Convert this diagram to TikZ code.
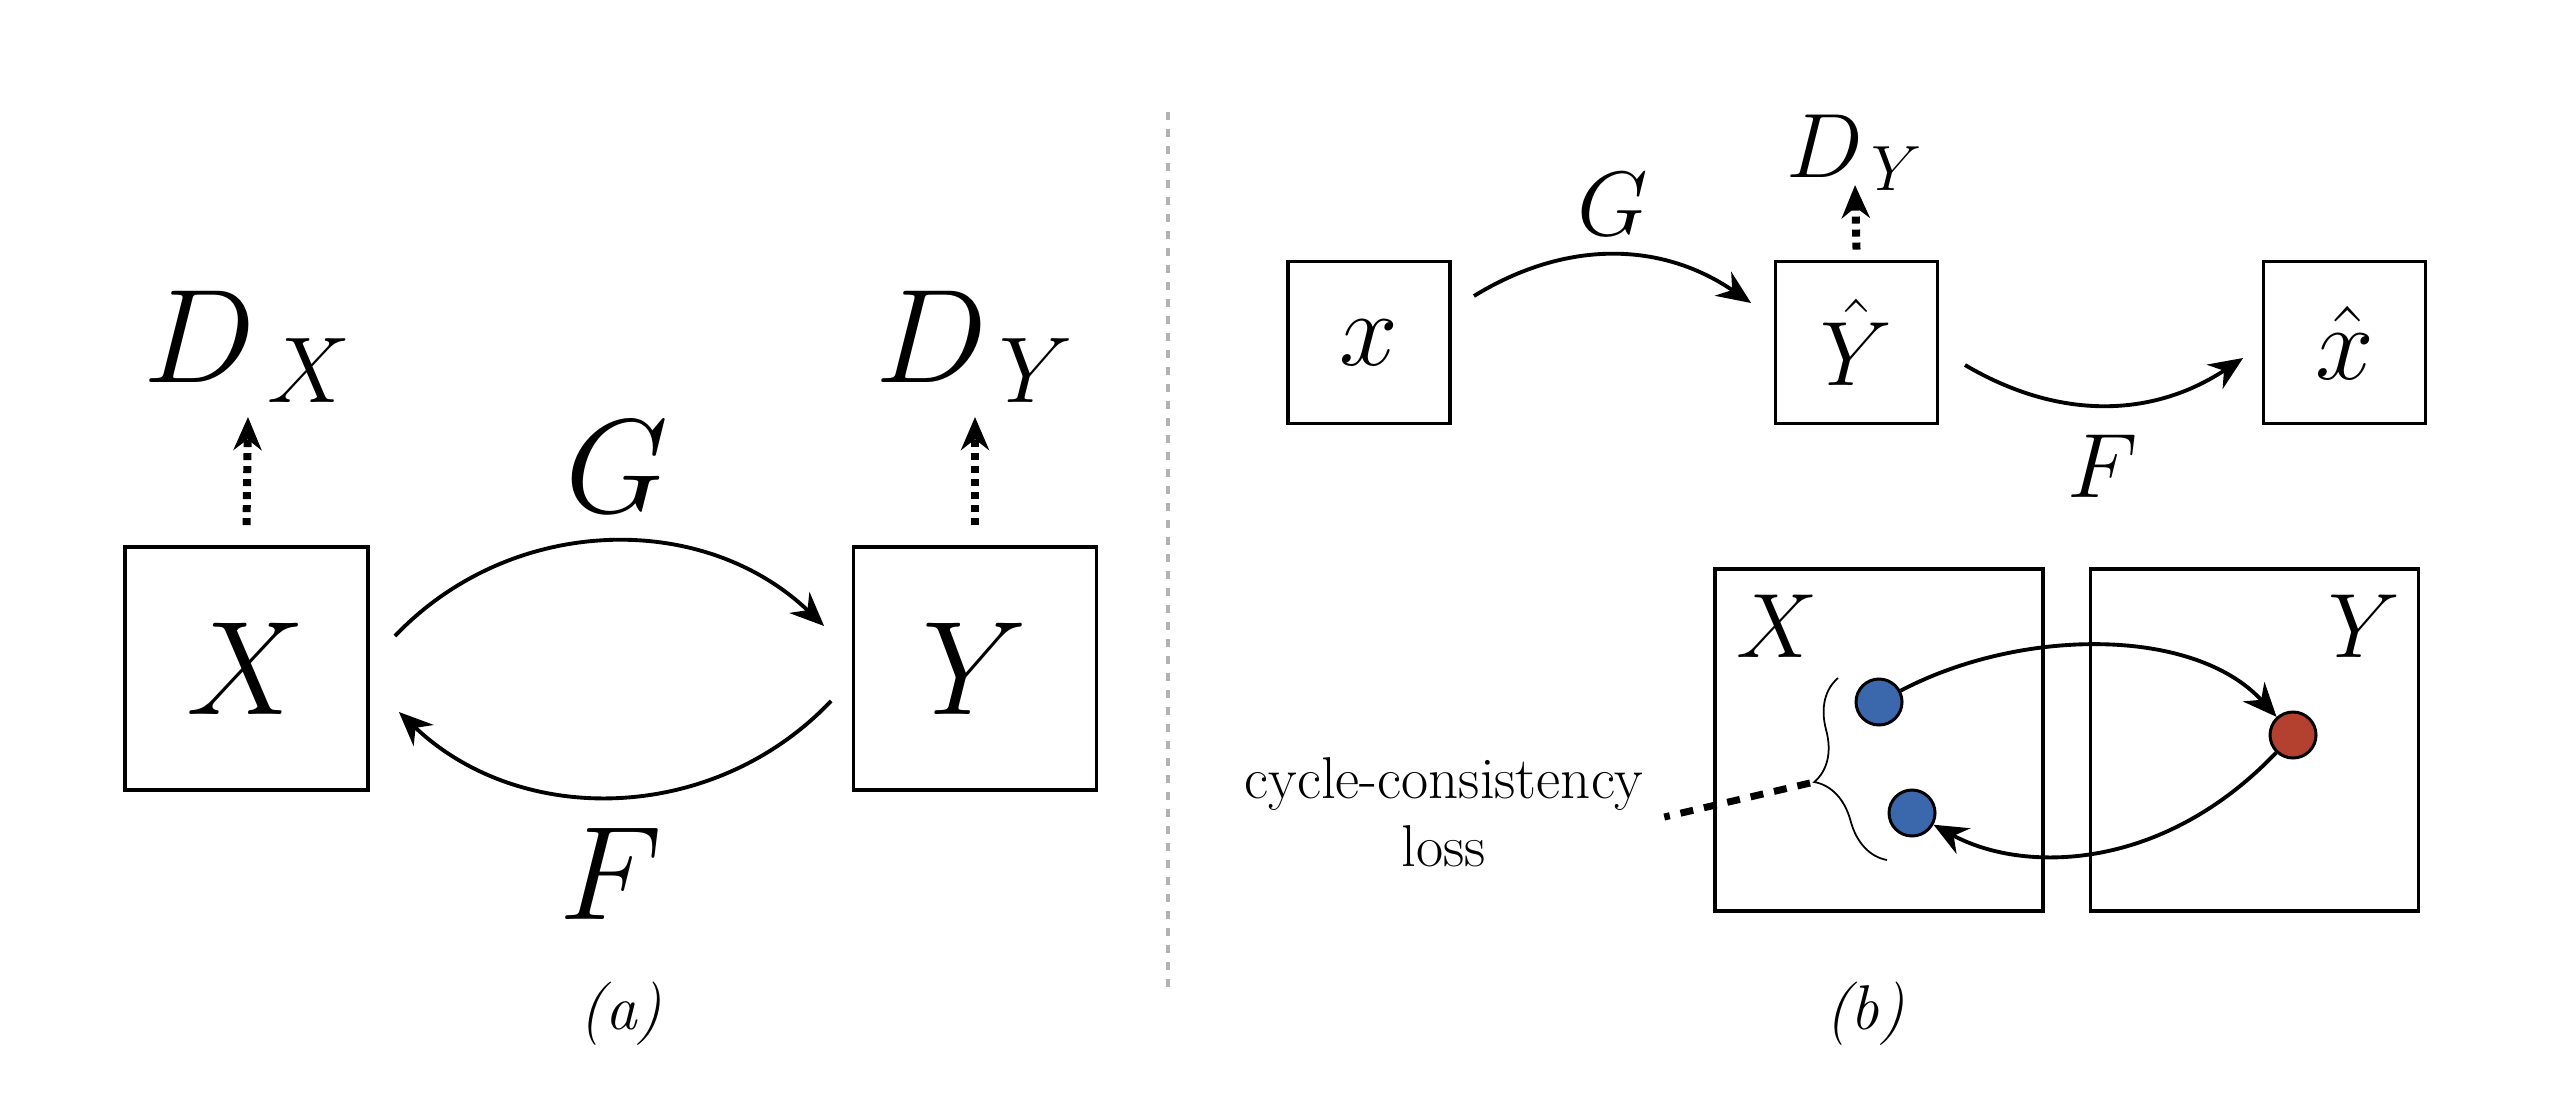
\RequirePackage{fix-cm}
\documentclass[tikz,border=0pt]{standalone}
\usepackage{amsmath}
\usepackage{xcolor}
\usetikzlibrary{arrows.meta}
\usetikzlibrary{calc}
\usetikzlibrary{positioning}
\usetikzlibrary{decorations.pathreplacing}

\definecolor{dotblue}{RGB}{59,103,172}
\definecolor{dotred}{RGB}{180,64,48}
\newcommand{\fsbig}{\fontsize{38}{44}\selectfont}
\newcommand{\fsmid}{\fontsize{26}{30}\selectfont}
\newcommand{\fslow}{\fontsize{30}{34}\selectfont}

\begin{document}
\begin{tikzpicture}[>={Stealth[length=0.34cm,width=0.29cm]}, line width=1.1pt]
	\tikzstyle{box}=[draw, rectangle, inner sep=0pt, line width=1.1pt]
	\tikzstyle{bigbox}=[box, minimum size=2.43cm, font=\fsbig]
	\tikzstyle{smallbox}=[box, minimum size=1.62cm, font=\fsmid]
	\tikzstyle{setbox}=[box, minimum width=3.28cm, minimum height=3.42cm]
	\tikzstyle{lab}=[anchor=base, inner sep=0pt]
	\tikzstyle{dot}=[draw, circle, inner sep=0pt, minimum size=0.46cm, line width=0.85pt]
	\tikzstyle{disc}=[->, line width=0.08cm, dash pattern=on 0.07cm off 0.06cm, >={Stealth[length=0.33cm,width=0.28cm]}]
	\tikzstyle{lossline}=[line width=0.07cm, dash pattern=on 0.13cm off 0.11cm]
	\useasboundingbox (0,0) rectangle (25.5,-10.94);

	% (a)
	\node[bigbox] (X) at (2.465,-6.685) {$X$};
	\node[bigbox] (Y) at (9.75,-6.685) {$Y$};
	\node[lab, font=\fsbig] (DX) at (2.48,-3.82) {$D_{\,X}$};
	\node[lab, font=\fsbig] (DY) at (9.75,-3.82) {$D_{\,Y}$};
	\node[lab, font=\fsbig] (G) at (6.17,-5.12) {$G$};
	\node[lab, font=\fsbig] (F) at (6.11,-9.19) {$F$};
	\draw[disc] ([yshift=0.2cm]X.north) -- ([yshift=-0.35cm]DX.base);
	\draw[disc] ([yshift=0.2cm]Y.north) -- ([yshift=-0.35cm]DY.base);
	\path
		([xshift=0.25cm,yshift=0.325cm]X.east) edge[->, bend left=45] ([xshift=-0.275cm,yshift=0.425cm]Y.west)
		([xshift=-0.205cm,yshift=-0.325cm]Y.west) edge[->, bend left=45] ([xshift=0.29cm,yshift=-0.435cm]X.east);
	\node[lab, font=\fontsize{18}{22}\selectfont] (la) at (6.21,-10.29) {\textit{(a)}};

	\draw[gray!60, line width=0.04cm, dash pattern=on 0.08cm off 0.09cm] (11.68,-1.12) -- (11.68,-9.87);

	% (b), top row
	\node[smallbox, font=\fslow] (x) at (13.69,-3.425) {$x$};
	\node[smallbox] (yh) at (18.565,-3.425) {$\hat{Y}$};
	\node[smallbox, font=\fslow] (xh) at (23.445,-3.425) {$\hat{x}$};
	\node[lab, font=\fsmid] (DY2) at (18.55,-1.77) {$D_{\,Y}$};
	\node[lab, font=\fsmid] (G2) at (16.13,-2.35) {$G$};
	\node[lab, font=\fsmid] (F2) at (21.03,-4.97) {$F$};
	\draw[disc] ([yshift=0.1cm]yh.north) -- ([yshift=-0.08cm]DY2.base);
	\path
		([xshift=0.22cm,yshift=0.465cm]x.east) edge[->, bend left=33] ([xshift=-0.225cm,yshift=0.395cm]yh.west)
		([xshift=0.255cm,yshift=-0.225cm]yh.east) edge[->, bend right=32] ([xshift=-0.185cm,yshift=-0.155cm]xh.west);

	% (b), bottom row
	\node[setbox] (SX) at (18.79,-7.40) {};
	\node[setbox] (SY) at (22.545,-7.40) {};
	\node[lab, font=\fsmid] (lx) at (17.77,-6.57) {$X$};
	\node[lab, font=\fsmid] (ly) at (23.64,-6.57) {$Y$};
	\node[dot, fill=dotblue] (d1) at (18.79,-7.02) {};
	\node[dot, fill=dotblue] (d2) at (19.12,-8.13) {};
	\node[dot, fill=dotred] (r1) at (22.93,-7.35) {};
	\draw[->] (d1) .. controls +(1.43,0.75) and +(-0.98,1.08) .. (r1);
	\draw[->] (r1) .. controls +(-1.32,-1.38) and +(1.10,-0.60) .. (d2);
	\coordinate (bb) at (18.87,-8.60);
	\coordinate (bt) at (18.38,-6.78);
	\coordinate (ct) at (18.10,-7.83);
	\draw[line width=0.5pt, decorate, decoration={brace, amplitude=0.5cm}] (bb) -- (bt);
	\node[align=center, font=\fontsize{16.8}{19.5}\selectfont] (cyc) at (14.44,-8.12) {cycle-consistency\\loss};
	\draw[lossline] (ct) -- ([xshift=0.07cm,yshift=-0.05cm]cyc.east);
	\node[lab, font=\fontsize{18}{22}\selectfont] (lb) at (18.65,-10.29) {\textit{(b)}};
\end{tikzpicture}
\end{document}
